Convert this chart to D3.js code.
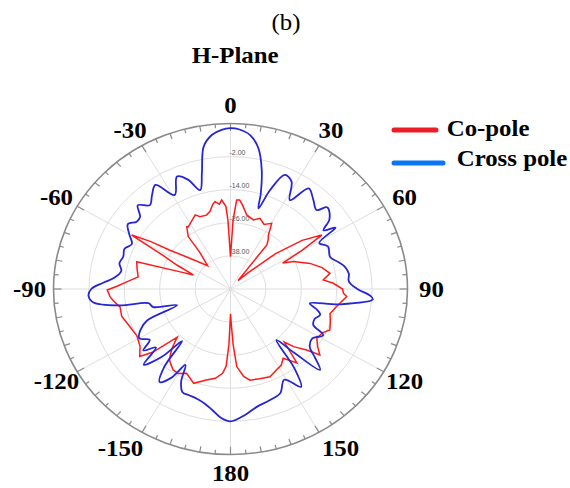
<!DOCTYPE html>
<html lang="en">
<head>
<meta charset="utf-8">
<title>H-Plane</title>
<style>
  body { margin: 0; background: #fff; }
  text { font-family: "Liberation Serif", "Times New Roman", serif; }
</style>
</head>
<body>
<svg width="570" height="488"></svg>
<script src="https://cdn.jsdelivr.net/npm/d3@7"></script>
<script>
  // angles in degrees, clockwise from the top; levels in dB
  var blueAngles = [-180,-176,-172,-168,-164,-160,-156.5,-153.5,-151,-148,-144.5,-141.5,-139,-136.5,-133,-130,-127,-124,-120,-116,-112,-108,-104,-100.5,-99,-96,-93,-90,-87,-84,-80,-76,-72,-68,-64,-60,-56,-52.5,-49.5,-46,-42,-38,-34,-29,-24,-20,-16,-13,-10,-6.5,-3,0,3,6.8,10.5,13.8,16.5,18,20.5,24,28,32,36,41,45.5,48,53,56,58,61,65,71,75,78,82,86,90,93,94.5,98.5,101,104,107,111,115,118,123,128,131,134,137,140,143,146,151,156,162,168,174];
  var blueValues = [-2,-3.2,-5.7,-7.6,-8.6,-9,-9.2,-12.5,-18.5,-12,-8.6,-14,-25,-16,-9.8,-17,-13,-17,-14.3,-16,-19.5,-31,-23,-21.7,-12,-3.3,-1.8,-2.8,-6.8,-10.5,-12.4,-11.2,-11.8,-11.2,-12.8,-10.4,-8,-9.9,-9.7,-6.3,-9.1,-6.8,-4.5,-11,-5.4,-7.8,-12.7,-6.9,2.4,6.2,7.8,8.3,7.9,6.2,1.9,-5.6,-13.8,-19.3,-11.7,-4.7,-5.9,-12,-4.9,-7.2,-9.1,-5.8,-8,-12,-8,-15.6,-13.5,-14.3,-12.2,-10.5,-9.5,-9.8,-7,-2.5,-1.6,-12.4,-22.6,-20,-18.2,-19.5,-19,-14.4,-17,-15.9,-12,-7.8,-18.5,-25.8,-14,-7.2,-12.4,-8.6,-7.5,-6.4,-4];

  var redAngles = [-180,-178.5,-177,-175,-171,-166,-160,-154,-150,-146.5,-143.5,-141,-137.5,-134,-131,-128.5,-124,-118,-112,-105,-100,-96,-94,-90.5,-88.5,-86.8,-82,-77,-72.7,-70.1,-68,-64.5,-61.9,-59.7,-57.5,-55.7,-51.6,-42.5,-38,-37,-33.3,-32.4,-28,-24,-21.5,-17,-14,-11,-9.4,-7,-5.3,-3,-2,-1,0,1,2,3.7,5.5,7,8.3,11.6,17.2,21.3,26,30.4,33.3,35.5,37.6,40,45,50,54,57.7,60,62,65,71,76,80.4,84,86.6,90,92.3,94,100,104.7,110,113.8,117,121.4,125,128.3,130.6,134.3,136.5,140,144.6,148,151.9,157.2,163,168.7,172,175.7,177.5,179];
  var redValues = [-41,-30,-22,-19.3,-17.2,-16,-13.6,-16,-14.6,-14.8,-16,-17.1,-20.5,-24.9,-15,-10.7,-13,-14,-13.3,-11.8,-12,-10,-9.1,-8.2,-11.5,-13.6,-18.4,-17.5,-16.7,-31.5,-36.4,-30,-23.9,-11.2,-18,-24.9,-31.6,-38.5,-33,-26.2,-23,-23.3,-22,-20.6,-21.8,-22,-21.1,-18.7,-17.9,-19,-17.6,-20,-25,-34,-38.3,-34,-25,-17.7,-17.6,-18.8,-19.9,-22.6,-23.8,-22.5,-24,-22.4,-26.6,-28,-29.8,-46,-42,-30,-20,-13.4,-22,-30,-26.5,-21.5,-18,-15.8,-18.4,-15.1,-12,-11.7,-10.5,-13.5,-15.1,-14,-13.2,-15,-15.7,-14,-11.4,-16,-20.1,-23.5,-15,-19.2,-17.5,-16.8,-15.5,-16,-16.3,-18,-21.8,-30,-38];

  var angleLabels = [0, 30, 60, 90, 120, 150, 180, -150, -120, -90, -60, -30];
  var ringValues = [-38, -26, -14, -2];
  var seriesNames = ["Co-pole", "Cross pole"];

  var svg = d3.select("svg");
  var cx = 230.5, cy = 289, rx = 177, ry = 165.5;
  var r = d3.scaleLinear().domain([-50, 10]).range([0, 1]);
  var toRad = function(a) { return a * Math.PI / 180; };
  function px(a, f) { return cx + rx * f * Math.sin(toRad(a)); }
  function py(a, f) { return cy - ry * f * Math.cos(toRad(a)); }

  var grid = svg.append("g");

  // rings
  ringValues.forEach(function(v) {
    grid.append("ellipse")
      .attr("cx", cx).attr("cy", cy)
      .attr("rx", rx * r(v)).attr("ry", ry * r(v))
      .attr("fill", "none").attr("stroke", "#dedede").attr("stroke-width", 1);
  });

  // spokes
  d3.range(0, 360, 30).forEach(function(a) {
    grid.append("line")
      .attr("x1", cx).attr("y1", cy)
      .attr("x2", px(a, 1)).attr("y2", py(a, 1))
      .attr("stroke", "#dedede").attr("stroke-width", 1);
  });

  // outer circle + ticks
  grid.append("ellipse")
    .attr("cx", cx).attr("cy", cy).attr("rx", rx).attr("ry", ry)
    .attr("fill", "none").attr("stroke", "#8a8a8a").attr("stroke-width", 1.6);

  d3.range(0, 360, 5).forEach(function(a) {
    var len = (a % 30 === 0) ? 0.045 : (a % 10 === 0 ? 0.035 : 0.025);
    grid.append("line")
      .attr("x1", px(a, 1)).attr("y1", py(a, 1))
      .attr("x2", px(a, 1 - len)).attr("y2", py(a, 1 - len))
      .attr("stroke", "#8a8a8a").attr("stroke-width", 1.2);
  });

  // ring labels
  ringValues.forEach(function(v) {
    grid.append("text")
      .attr("x", cx - 1).attr("y", cy - ry * r(v) - 1.5)
      .style("font-family", "'Liberation Sans', Arial, sans-serif")
      .style("font-size", "7px").attr("fill", "#555")
      .text(v.toFixed(2));
  });

  // curves
  function pts(angles, values) {
    return angles.map(function(a, i) { return [px(a, r(values[i])), py(a, r(values[i]))]; });
  }

  svg.append("path")
    .attr("d", d3.line().curve(d3.curveLinearClosed)(pts(redAngles, redValues)))
    .attr("fill", "none").attr("stroke", "#ff1a1a").attr("stroke-width", 1.5);

  svg.append("path")
    .attr("d", d3.line().curve(d3.curveCatmullRomClosed.alpha(0.5))(pts(blueAngles, blueValues)))
    .attr("fill", "none").attr("stroke", "#2626d6").attr("stroke-width", 1.8);

  // angle labels (the ±150 ones sit a bit further out)
  var lry = 184;
  angleLabels.forEach(function(a) {
    var lrx = Math.abs(a) === 150 ? 220 : 201;
    var x = cx + lrx * Math.sin(toRad(a)), y = cy - lry * Math.cos(toRad(a));
    svg.append("text")
      .attr("transform", "translate(" + x + "," + (y + 8) + ") scale(1.08,1)")
      .attr("text-anchor", "middle")
      .style("font-size", "23px").style("font-weight", "bold")
      .text(a);
  });

  // titles
  svg.append("text")
    .attr("transform", "translate(286,30) scale(1.08,1)")
    .attr("text-anchor", "middle").style("font-size", "23px")
    .text("(b)");
  svg.append("text")
    .attr("transform", "translate(191.7,63.3) scale(1.08,1)")
    .style("font-size", "23px").style("font-weight", "bold")
    .text("H-Plane");

  // legend
  var legend = [
    {name: seriesNames[0], color: "#ee1c25", x1: 394, x2: 436, y: 130, tx: 446.7, ty: 136},
    {name: seriesNames[1], color: "#0a75f5", x1: 394, x2: 443, y: 163, tx: 456.7, ty: 166}
  ];
  legend.forEach(function(d) {
    svg.append("line")
      .attr("x1", d.x1).attr("x2", d.x2).attr("y1", d.y).attr("y2", d.y)
      .attr("stroke", d.color).attr("stroke-width", 5).attr("stroke-linecap", "round");
    svg.append("text")
      .attr("transform", "translate(" + d.tx + "," + d.ty + ") scale(1.08,1)")
      .style("font-size", "23px").style("font-weight", "bold")
      .text(d.name);
  });
</script>
</body>
</html>
